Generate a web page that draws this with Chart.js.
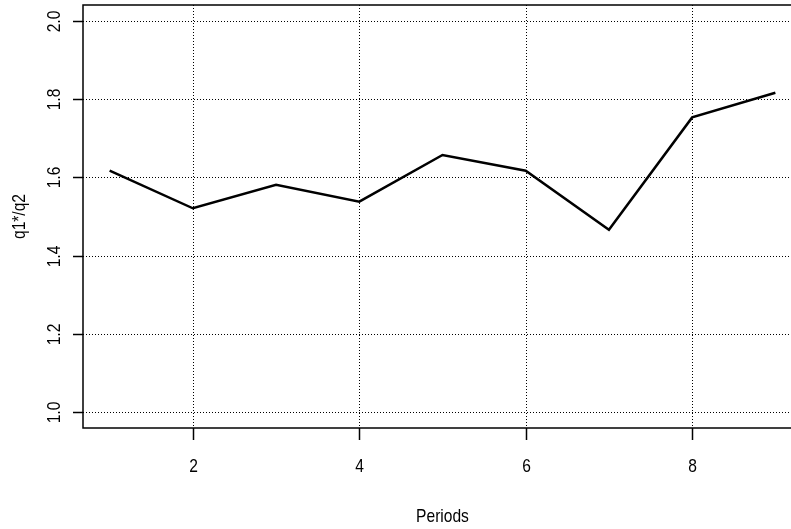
<!DOCTYPE html>
<html>
<head>
<meta charset="utf-8">
<script src="https://cdn.jsdelivr.net/npm/chart.js@4.4.1/dist/chart.umd.min.js"></script>
<style>
  html, body { margin: 0; padding: 0; background: #fff; overflow: hidden; }
  #wrap { width: 830px; height: 529px; position: relative; }
</style>
</head>
<body>
<div id="wrap"><canvas id="c"></canvas></div>
<script>
// Data
const periods = [1, 2, 3, 4, 5, 6, 7, 8, 9];
const ratio   = [1.617, 1.521, 1.581, 1.538, 1.657, 1.617, 1.466, 1.753, 1.816];
const xTicks  = [2, 4, 6, 8];
const yTicks  = [1.0, 1.2, 1.4, 1.6, 1.8, 2.0];
const xTitle  = "Periods";
const yTitle  = "q1*/q2";

const FONT = '19px "Liberation Sans", Arial, sans-serif';

// narrow-looking text: squeeze horizontally in the text's own frame
function narrowText(ctx, txt, x, y, rot) {
  ctx.save();
  ctx.translate(x, y);
  if (rot) ctx.rotate(rot);
  ctx.scale(0.82, 1);
  ctx.fillText(txt, 0, 0);
  ctx.restore();
}

// R-style box, dotted grid, ticks and rotated labels
const rAxes = {
  id: "rAxes",
  beforeDatasetsDraw(chart) {
    const { ctx, chartArea: a, scales: { x, y } } = chart;
    ctx.save();
    ctx.strokeStyle = "#000";
    ctx.lineWidth = 1;
    ctx.setLineDash([1, 2]);
    xTicks.forEach(v => {
      const px = Math.round(x.getPixelForValue(v)) + 0.5;
      ctx.beginPath(); ctx.moveTo(px, a.top); ctx.lineTo(px, a.bottom); ctx.stroke();
    });
    yTicks.forEach(v => {
      const py = Math.round(y.getPixelForValue(v)) + 0.5;
      ctx.beginPath(); ctx.moveTo(a.left, py); ctx.lineTo(a.right, py); ctx.stroke();
    });
    ctx.restore();
  },
  afterDraw(chart) {
    const { ctx, chartArea: a, scales: { x, y } } = chart;
    ctx.save();
    ctx.strokeStyle = "#000";
    ctx.lineWidth = 1.5;
    ctx.setLineDash([]);
    ctx.strokeRect(a.left, a.top, a.right - a.left, a.bottom - a.top);

    ctx.fillStyle = "#000";
    ctx.font = FONT;
    ctx.textAlign = "center";
    ctx.textBaseline = "middle";

    // x ticks + labels
    xTicks.forEach(v => {
      const px = Math.round(x.getPixelForValue(v)) + 0.5;
      ctx.beginPath(); ctx.moveTo(px, a.bottom); ctx.lineTo(px, a.bottom + 12); ctx.stroke();
      narrowText(ctx, String(v), px, a.bottom + 39, 0);
    });

    // y ticks + rotated labels
    yTicks.forEach(v => {
      const py = Math.round(y.getPixelForValue(v)) + 0.5;
      ctx.beginPath(); ctx.moveTo(a.left - 10, py); ctx.lineTo(a.left, py); ctx.stroke();
      narrowText(ctx, v.toFixed(1), a.left - 28, py, -Math.PI / 2);
    });

    // axis titles
    narrowText(ctx, xTitle, (x.getPixelForValue(1) + x.getPixelForValue(9)) / 2, 517, 0);
    narrowText(ctx, yTitle, 20, (a.top + a.bottom) / 2, -Math.PI / 2);
    ctx.restore();
  }
};

new Chart(document.getElementById("c"), {
  type: "line",
  data: {
    labels: periods,
    datasets: [{
      data: periods.map((p, i) => ({ x: p, y: ratio[i] })),
      borderColor: "#000",
      borderWidth: 2.5,
      pointRadius: 0,
      tension: 0,
      fill: false
    }]
  },
  options: {
    responsive: true,
    maintainAspectRatio: false,
    animation: false,
    layout: { padding: { left: 83, right: 28, top: 5, bottom: 101 } },
    plugins: { legend: { display: false }, tooltip: { enabled: false } },
    scales: {
      x: { type: "linear", min: 0.68, max: 9.32, display: false },
      y: { type: "linear", min: 0.96, max: 2.04, display: false }
    }
  },
  plugins: [rAxes]
});
</script>
</body>
</html>
